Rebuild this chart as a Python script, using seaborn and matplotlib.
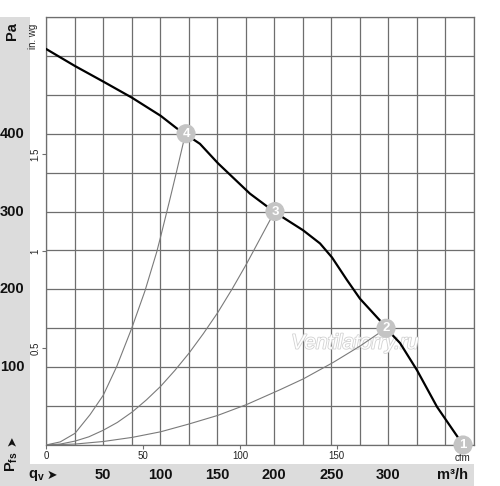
import matplotlib
matplotlib.use("Agg")
import matplotlib.pyplot as plt
import matplotlib.patheffects as pe
from matplotlib.transforms import blended_transform_factory
import seaborn as sns
import numpy as np

# ---- data ----
flow_main = [0, 25.4, 50.2, 75.1, 100.5, 114.5, 122.7, 134.9, 150.7, 178.7, 200.6,
             225.2, 240.1, 250.6, 263.7, 275.1, 292.6, 297.9, 310.2, 325.1, 342.6, 362.7, 365.4]
pa_main = [509, 487, 467, 446.5, 423, 407, 399, 387, 362, 323, 299,
           276, 259, 241, 212, 188, 160, 150, 131, 96, 49, 6, 0]

sys4_q = [0, 12.5, 25.4, 38.6, 50.2, 62, 75.1, 86.7, 97, 100.5, 108.6, 114.5, 120.9, 122.7]
sys4_p = [0, 4, 15, 39, 64, 101, 150, 198, 248, 268, 316, 352, 392, 400]
sys3_q = [0, 12.5, 25.4, 37.5, 50.2, 62.5, 75.6, 88, 100.5, 113, 125.3, 137.8, 150.4,
          163.3, 175.8, 187.5, 199.2, 200.6]
sys3_p = [0, 1.2, 5, 10.5, 19, 29, 42.5, 58, 75.5, 96, 118, 143, 170, 201, 233, 265, 297, 300]
sys2_q = [0, 25.4, 50.2, 75.6, 100.5, 125.3, 150.4, 175.8, 205, 225.5, 251.5, 275, 291, 297.9]
sys2_p = [0, 1.2, 4.5, 9.8, 17, 27, 38, 52, 71, 85, 106, 127, 143, 150]

op_q = [365.4, 297.9, 200.6, 122.7]
op_p = [0, 150, 300, 400]
op_lbl = ["1", "2", "3", "4"]

pa_ticks = [100, 200, 300, 400]
m3h_ticks = [50, 100, 150, 200, 250, 300]
cfm_ticks = [0, 50, 100, 150]
inwg_ticks = [0.5, 1, 1.5]

sns.set_style("white")
plt.rcParams['font.family'] = ['Liberation Sans', 'DejaVu Sans']

W, H = 500, 486
fig = plt.figure(figsize=(W / 100, H / 100), dpi=100)
ax = fig.add_axes([46 / W, (H - 445) / H, 428 / W, 428 / H])

# gray panels (behind everything)
fig.patches.append(plt.Rectangle((0, 0), 30 / W, (H - 17) / H, transform=fig.transFigure,
                                 facecolor="#dcdcdc", edgecolor="none", zorder=-5))
fig.patches.append(plt.Rectangle((0, 0), 474 / W, 22 / H, transform=fig.transFigure,
                                 facecolor="#dcdcdc", edgecolor="none", zorder=-5))

ax.set_xlim(0, 375)
ax.set_ylim(0, 550)
ax.set_xticks(np.arange(0, 376, 25))
ax.set_yticks(np.arange(0, 551, 50))
ax.tick_params(length=0, labelbottom=False, labelleft=False)
ax.grid(True, color="#6e6e6e", lw=0.9)
for s in ax.spines.values():
    s.set_color("#6e6e6e")
    s.set_linewidth(0.9)

gray = "#7a7a7a"
for q, p in [(sys4_q, sys4_p), (sys3_q, sys3_p), (sys2_q, sys2_p)]:
    sns.lineplot(x=q, y=p, ax=ax, color=gray, lw=0.8, sort=False, zorder=3)
sns.lineplot(x=flow_main, y=pa_main, ax=ax, color="black", lw=1.6, sort=False, zorder=4)

sns.scatterplot(x=op_q, y=op_p, ax=ax, s=190, color="#c4c4c4", edgecolor="none",
                zorder=5, clip_on=False)
for q, p, t in zip(op_q, op_p, op_lbl):
    ax.text(q, p, t, color="white", fontsize=9.5, fontweight="bold",
            ha="center", va="center", zorder=6, clip_on=False)

# watermark
ax.text(0.722, 0.238, "Ventilatorry.ru", transform=ax.transAxes, fontsize=15,
        style="italic", color="white", ha="center", va="center", zorder=2,
        path_effects=[pe.withStroke(linewidth=1.2, foreground="#d2d2d2")])

# secondary cfm axis
sec_x = ax.secondary_xaxis('bottom', functions=(lambda q: q / 1.699, lambda c: c * 1.699))
sec_x.set_xticks(cfm_ticks)
sec_x.tick_params(length=3, width=0.8, color="#6e6e6e", labelsize=7, pad=1, labelcolor="#222")
sec_x.spines['bottom'].set_visible(False)
ax.text(364.5 / 375, -0.019, "cfm", transform=ax.transAxes, fontsize=7, ha="center",
        va="top", color="#222", zorder=1)

# secondary in. wg axis
sec_y = ax.secondary_yaxis('left', functions=(lambda p: p / 249.09, lambda w: w * 249.09))
sec_y.set_yticks(inwg_ticks)
sec_y.set_yticklabels([str(v) for v in inwg_ticks], rotation=90, va="center")
sec_y.tick_params(length=3, width=0.8, color="#6e6e6e", labelsize=7, pad=1, labelcolor="#222")
sec_y.spines['left'].set_visible(False)
ax.text(-0.019, 0.985, "in. wg", transform=ax.transAxes, fontsize=7, rotation=90,
        ha="right", va="top", color="#222")

# Pa labels in left panel
tr_y = blended_transform_factory(fig.transFigure, ax.transData)
for p in pa_ticks:
    ax.text(12 / W, p, str(p), transform=tr_y, fontsize=10.5, fontweight="bold",
            ha="center", va="center", color="#111", clip_on=False)
fig.text(12 / W, (H - 31) / H, "Pa", fontsize=10.5, fontweight="bold", rotation=90,
         ha="center", va="center", color="#111")
fig.text(12 / W, (H - 441) / H, "➤", fontsize=9, rotation=90, ha="center", va="center",
         color="#111", family=["DejaVu Sans"])
fig.text(12 / W, (H - 462) / H, r"P$_{\mathregular{fs}}$", fontsize=10.5, fontweight="bold",
         rotation=90, ha="center", va="center", color="#111")

# m3/h labels in bottom panel
tr_x = blended_transform_factory(ax.transData, fig.transFigure)
for q in m3h_ticks:
    ax.text(q, 11 / H, str(q), transform=tr_x, fontsize=10.5, fontweight="bold",
            ha="center", va="center", color="#111", clip_on=False)
fig.text(468 / W, 11 / H, "m³/h", fontsize=10.5, fontweight="bold", ha="right",
         va="center", color="#111")
fig.text(28 / W, 11 / H, r"q$_{\mathregular{v}}$", fontsize=10.5, fontweight="bold",
         ha="left", va="center", color="#111")
fig.text(52 / W, 11 / H, "➤", fontsize=9, ha="center", va="center", color="#111",
         family=["DejaVu Sans"])

fig.savefig("out.png", dpi=100)
